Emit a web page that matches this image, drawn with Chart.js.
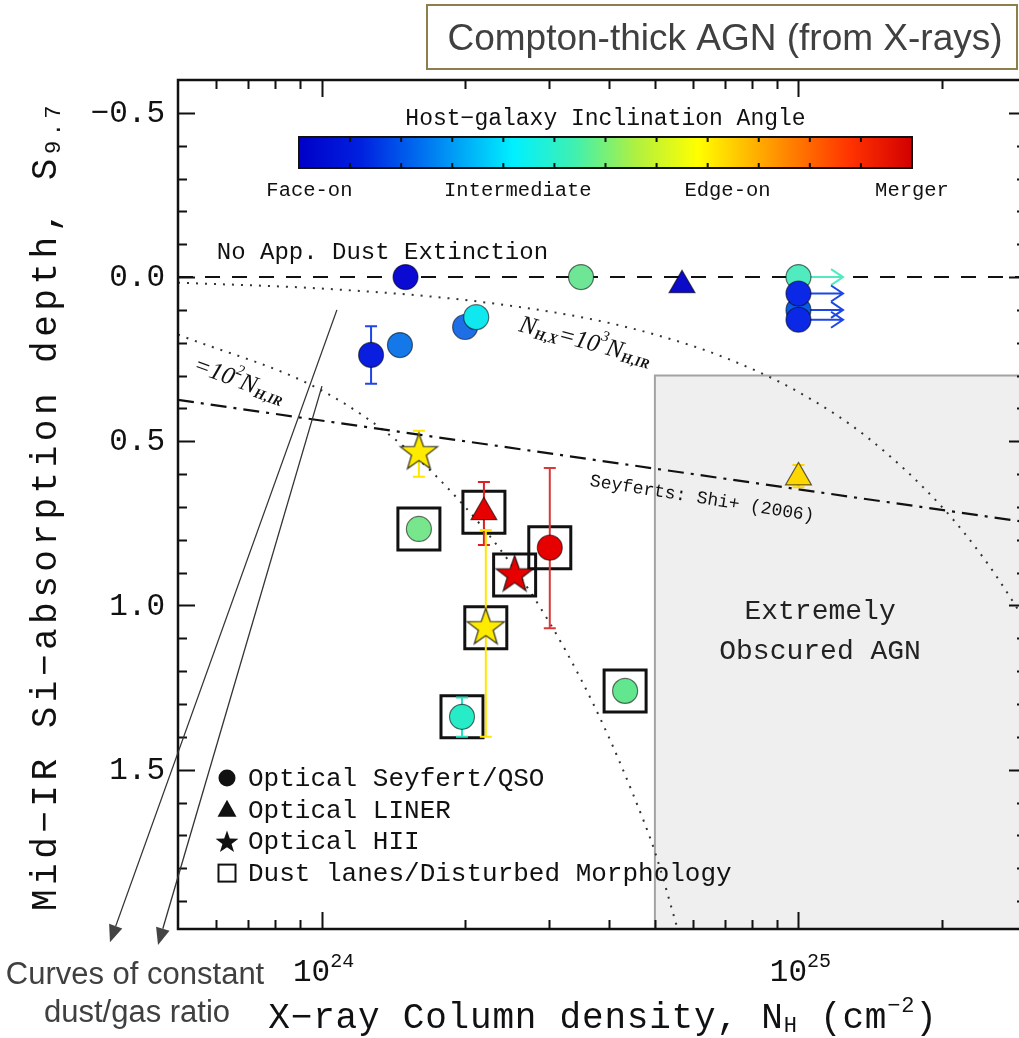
<!DOCTYPE html>
<html><head><meta charset="utf-8">
<script src="https://cdn.jsdelivr.net/npm/chart.js@4.4.1/dist/chart.umd.min.js"></script>
<style>
html,body{margin:0;padding:0;background:#fff;overflow:hidden;}
#wrap{width:1040px;height:1038px;position:relative;}
canvas{display:block;}
</style></head><body>
<div id="wrap"><canvas id="c" width="1040" height="1038" style="width:1040px;height:1038px"></canvas></div>
<script>
// ---------------- DATA ----------------
// Optical Seyfert/QSO (circles): X-ray column density N_H (cm^-2), Si depth S9.7
const seyfertNH = [1.5e24, 3.5e24, 1.27e24, 1.46e24, 2.0e24, 2.11e24, 1.6e24, 3.01e24, 1.97e24, 4.33e24, 1.0e25, 1.0e25, 1.0e25, 1.0e25];
const seyfertS  = [0.00, 0.00, 0.237, 0.207, 0.152, 0.122, 0.767, 0.824, 1.339, 1.26, 0.00, 0.10, 0.05, 0.13];
const seyfertColor = ['#0a0ad2','#6ee696','#0a1ee0','#1478e8','#1e6ee6','#10e8f0','#78e68c','#e60000','#28ebc8','#62e68e','#50ebbe','#0a5ae6','#0a28e6','#0a28e6'];
// Optical LINER (triangles)
const linerNH = [5.7e24, 2.19e24, 1.0e25];
const linerS  = [0.025, 0.716, 0.61];
const linerColor = ['#0a0ac8','#e60000','#ffd700'];
// Optical HII (stars)
const hiiNH = [1.6e24, 2.21e24, 2.54e24];
const hiiS  = [0.535, 1.068, 0.907];
const hiiColor = ['#ffeb00','#ffeb00','#e60000'];
// Dust lanes / disturbed morphology (open squares)
const boxNH = [1.6e24, 2.19e24, 2.21e24, 2.54e24, 3.01e24, 1.97e24, 4.33e24];
const boxS  = [0.767, 0.716, 1.068, 0.907, 0.824, 1.339, 1.26];
// Error bars on S9.7
const errNH = [1.27e24, 1.6e24, 2.19e24, 2.21e24, 3.01e24, 1.97e24, 1.0e25, 1.0e25];
const errLo = [0.15, 0.468, 0.624, 0.77, 0.581, 1.28, 0.572, 0.015];
const errHi = [0.325, 0.608, 0.816, 1.40, 1.069, 1.40, 0.64, 0.08];
const errColor = ['#1e46e6','#ffe600','#e02020','#ffe600','#d83a3a','#28e0c0','#ffd700','#1e46e6'];
// Lower limits on N_H (arrows)
const limNH = [1.0e25, 1.0e25, 1.0e25, 1.0e25];
const limS  = [0.00, 0.05, 0.10, 0.13];
const limToNH = [1.24e25, 1.24e25, 1.24e25, 1.24e25];
const limColor = ['#50ebbe','#1e46e6','#1e46e6','#1e46e6'];
// Reference lines
const zeroLineNH = [5e23, 3e25];
const zeroLineS  = [0, 0];
const shiNH = [5e23, 3e25];
const shiS  = [0.374, 0.746];
const ratio1e3NH = [5e23, 1e24, 2e24, 3.5e24, 5e24, 7e24, 1e25, 1.4e25, 2e25, 2.5e25, 3e25];
const ratio1e3S  = [0.017, 0.035, 0.07, 0.122, 0.175, 0.245, 0.35, 0.49, 0.70, 0.875, 1.05];
const ratio1e2NH = [5e23, 1e24, 1.5e24, 2e24, 2.5e24, 3e24, 3.5e24, 4e24, 4.5e24, 5e24, 5.58e24];
const ratio1e2S  = [0.175, 0.345, 0.52, 0.70, 0.875, 1.05, 1.225, 1.40, 1.575, 1.75, 1.985];
// Extremely obscured region
const obscuredMinNH = 5e24;
const obscuredMinS = 0.30;
// Annotation arrows ("Curves of constant dust/gas ratio")
const noteFromNH = [1.077e24, 1.002e24];
const noteFromS  = [0.10, 0.332];
const noteToNH   = [3.6e23, 4.54e23];
const noteToS    = [2.025, 2.034];
// Axes
const xMin = 5e23, xMax = 3e25, yMin = -0.6, yMax = 1.985;
const xTickValues = [5e23,6e23,7e23,8e23,9e23,1e24,2e24,3e24,4e24,5e24,6e24,7e24,8e24,9e24,1e25,2e25,3e25];
const xLabelValues = [1e24, 1e25];
const xLabelExp = ['24', '25'];
const yTickValues = [-0.5,-0.4,-0.3,-0.2,-0.1,0,0.1,0.2,0.3,0.4,0.5,0.6,0.7,0.8,0.9,1.0,1.1,1.2,1.3,1.4,1.5,1.6,1.7,1.8,1.9];
const yLabelValues = [-0.5, 0, 0.5, 1.0, 1.5];
const colorbarLabels = ['Face-on','Intermediate','Edge-on','Merger'];

// ---------------- STYLE ----------------
const MONO = '"Liberation Mono","DejaVu Sans Mono",monospace';
const SERIF = '"Liberation Serif","DejaVu Serif",serif';
const SANS = '"Liberation Sans",Arial,sans-serif';

function starCanvas(fill, R){
  const s = Math.ceil(2*R+6);
  const c = document.createElement('canvas'); c.width = s; c.height = s;
  const g = c.getContext('2d');
  g.translate(s/2, s/2);
  g.beginPath();
  for(let i=0;i<10;i++){
    const r = i%2===0 ? R : R*0.4;
    const a = -Math.PI/2 + i*Math.PI/5;
    g.lineTo(r*Math.cos(a), r*Math.sin(a));
  }
  g.closePath();
  g.fillStyle = fill; g.fill();
  g.lineWidth = 1.3; g.strokeStyle = 'rgba(0,0,0,0.75)'; g.lineJoin='miter'; g.stroke();
  return c;
}
const starImages = hiiColor.map(c => starCanvas(c, 19.5));

function pts(xs, ys){ return xs.map((x,i)=>({x, y: ys[i]})); }

function drawRich(ctx, parts, x, y, align){
  let w = 0;
  for(const p of parts){ ctx.font = p.f; w += ctx.measureText(p.t).width; }
  let cx = align==='center' ? x - w/2 : (align==='right' ? x - w : x);
  ctx.textAlign = 'left'; ctx.textBaseline = 'middle';
  for(const p of parts){ ctx.font = p.f; ctx.fillText(p.t, cx, y + (p.dy||0)); cx += ctx.measureText(p.t).width; }
}

const figPlugin = {
  id: 'fig',
  beforeDatasetsDraw(chart){
    const {ctx, chartArea:a, scales:{x, y}} = chart;
    const x0 = x.getPixelForValue(obscuredMinNH), y0 = y.getPixelForValue(obscuredMinS);
    ctx.save();
    ctx.fillStyle = '#efefef';
    ctx.fillRect(x0, y0, a.right - x0, a.bottom - y0);
    ctx.strokeStyle = '#a3a3a3'; ctx.lineWidth = 2;
    ctx.beginPath(); ctx.moveTo(x0, a.bottom); ctx.lineTo(x0, y0); ctx.lineTo(a.right, y0); ctx.stroke();
    ctx.fillStyle = '#222';
    ctx.font = '28px ' + MONO; ctx.textAlign = 'center'; ctx.textBaseline = 'middle';
    const tx = x.getPixelForValue(1.11e25);
    ctx.fillText('Extremely', tx, y.getPixelForValue(1.02));
    ctx.fillText('Obscured AGN', tx, y.getPixelForValue(1.14));
    ctx.restore();
  },
  afterDatasetDraw(chart, args){
    const ds = chart.data.datasets[args.index];
    if (ds.label !== 'Dust lanes/Disturbed Morphology') return;
    const {ctx, scales:{x, y}} = chart;
    ctx.save();
    ctx.lineWidth = 2;
    errNH.forEach((n,i)=>{
      const px = x.getPixelForValue(n), a = y.getPixelForValue(errLo[i]), b = y.getPixelForValue(errHi[i]);
      ctx.strokeStyle = errColor[i];
      ctx.beginPath(); ctx.moveTo(px, a); ctx.lineTo(px, b);
      ctx.moveTo(px-6, a); ctx.lineTo(px+6, a); ctx.moveTo(px-6, b); ctx.lineTo(px+6, b); ctx.stroke();
    });
    limNH.forEach((n,i)=>{
      const p0 = x.getPixelForValue(n), p1 = x.getPixelForValue(limToNH[i]), py = y.getPixelForValue(limS[i]);
      ctx.strokeStyle = limColor[i];
      ctx.beginPath(); ctx.moveTo(p0, py); ctx.lineTo(p1, py);
      ctx.moveTo(p1-12, py-8); ctx.lineTo(p1, py); ctx.lineTo(p1-12, py+8); ctx.stroke();
    });
    ctx.restore();
  },
  afterDatasetsDraw(chart){
    const {ctx, chartArea:a, scales:{x, y}} = chart;
    ctx.save();
    ctx.strokeStyle = '#111'; ctx.lineWidth = 2.5;
    ctx.strokeRect(a.left, a.top, a.right - a.left, a.bottom - a.top);
    ctx.lineWidth = 2;
    ctx.beginPath();
    x.ticks.forEach(t=>{
      if (t.value <= xMin || t.value >= xMax) return;
      const px = Math.round(x.getPixelForValue(t.value)) + 0.5;
      const len = xLabelValues.includes(t.value) ? 17 : 9;
      ctx.moveTo(px, a.bottom); ctx.lineTo(px, a.bottom - len);
      ctx.moveTo(px, a.top); ctx.lineTo(px, a.top + len);
    });
    y.ticks.forEach(t=>{
      const py = Math.round(y.getPixelForValue(t.value)) + 0.5;
      const major = Math.abs(t.value*2 - Math.round(t.value*2)) < 1e-6;
      const len = major ? 17 : 9;
      ctx.moveTo(a.left, py); ctx.lineTo(a.left + len, py);
      ctx.moveTo(a.right, py); ctx.lineTo(a.right - len, py);
    });
    ctx.stroke();
    ctx.restore();
  },
  afterDraw(chart){
    const {ctx, chartArea:a, scales:{x, y}} = chart;
    ctx.save();
    ctx.fillStyle = '#111';
    // y tick labels
    ctx.font = '31px ' + MONO; ctx.textAlign = 'right'; ctx.textBaseline = 'middle';
    yLabelValues.forEach(v=>{
      const s = (v < 0 ? '\u2212' : '') + Math.abs(v).toFixed(1);
      ctx.fillText(s, a.left - 13, y.getPixelForValue(v) + 1);
    });
    // x tick labels
    xLabelValues.forEach((v,i)=>{
      drawRich(ctx, [{t:'10', f:'31px '+MONO}, {t:xLabelExp[i], f:'20px '+MONO, dy:-11}], x.getPixelForValue(v) + 2, a.bottom + 44, 'center');
    });
    // axis titles
    ctx.save();
    ctx.letterSpacing = '0.8px';
    drawRich(ctx, [{t:'X\u2212ray Column density, N', f:'36px '+MONO}, {t:'H', f:'22px '+MONO, dy:8}, {t:' (cm', f:'36px '+MONO}, {t:'\u22122', f:'22px '+MONO, dy:-12}, {t:')', f:'36px '+MONO}], 603, a.bottom + 89, 'center');
    ctx.restore();
    ctx.save();
    ctx.translate(46, 506); ctx.rotate(-Math.PI/2);
    ctx.letterSpacing = '4.5px';
    drawRich(ctx, [{t:'Mid\u2212IR Si\u2212absorption depth, S', f:'36px '+MONO}, {t:'9.7', f:'22px '+MONO, dy:8}], 0, 0, 'center');
    ctx.restore();

    // reference line labels
    ctx.font = '24px ' + MONO; ctx.textAlign = 'left'; ctx.textBaseline = 'middle';
    ctx.fillText('No App. Dust Extinction', x.getPixelForValue(6.03e23), y.getPixelForValue(-0.073));
    ctx.save();
    ctx.translate(x.getPixelForValue(6.28e24), y.getPixelForValue(0.675)); ctx.rotate(9*Math.PI/180);
    ctx.font = '18px ' + MONO; ctx.textAlign = 'center';
    ctx.fillText('Seyferts: Shi+ (2006)', 0, 0);
    ctx.restore();
    ctx.save();
    ctx.translate(x.getPixelForValue(3.57e24), y.getPixelForValue(0.198)); ctx.rotate(15*Math.PI/180);
    drawRich(ctx, [{t:'N', f:'italic 25px '+SERIF}, {t:'H,X', f:'italic bold 14px '+SERIF, dy:6}, {t:'=10', f:'italic 25px '+SERIF}, {t:'3', f:'italic 15px '+SERIF, dy:-10}, {t:'N', f:'italic 25px '+SERIF}, {t:'H,IR', f:'italic bold 14px '+SERIF, dy:6}], 0, 0, 'center');
    ctx.restore();
    ctx.save();
    ctx.translate(x.getPixelForValue(6.71e23), y.getPixelForValue(0.317)); ctx.rotate(20*Math.PI/180);
    drawRich(ctx, [{t:'=10', f:'italic 25px '+SERIF}, {t:'2', f:'italic 15px '+SERIF, dy:-10}, {t:'N', f:'italic 25px '+SERIF}, {t:'H,IR', f:'italic bold 14px '+SERIF, dy:6}], 0, 0, 'center');
    ctx.restore();

    // colorbar
    const cbL = a.left + 121, cbR = a.left + 734, cbT = a.top + 57, cbB = a.top + 88;
    const g = ctx.createLinearGradient(cbL, 0, cbR, 0);
    [[0,'#0000c8'],[0.1,'#0020e0'],[0.2,'#0070f0'],[0.35,'#00f0ff'],[0.45,'#40f0b0'],[0.55,'#b0f040'],[0.65,'#ffff00'],[0.8,'#ff8200'],[0.9,'#ff3200'],[1,'#d20000']].forEach(s=>g.addColorStop(s[0], s[1]));
    ctx.fillStyle = g; ctx.fillRect(cbL, cbT, cbR - cbL, cbB - cbT);
    ctx.strokeStyle = '#111'; ctx.lineWidth = 2;
    ctx.strokeRect(cbL, cbT, cbR - cbL, cbB - cbT);
    ctx.beginPath();
    for (let k=1;k<12;k++){ const px = cbL + (cbR-cbL)*k/12; ctx.moveTo(px, cbT); ctx.lineTo(px, cbT+5); ctx.moveTo(px, cbB); ctx.lineTo(px, cbB-5); }
    ctx.stroke();
    ctx.fillStyle = '#111';
    ctx.font = '23px ' + MONO; ctx.textAlign = 'center'; ctx.textBaseline = 'middle';
    ctx.fillText('Host\u2212galaxy Inclination Angle', (cbL+cbR)/2, cbT - 18);
    ctx.font = '20.5px ' + MONO;
    [0.017, 0.357, 0.699, 1.0].forEach((f,i)=> ctx.fillText(colorbarLabels[i], cbL + (cbR-cbL)*f, cbB + 23));

    // symbol legend
    const lx = a.left + 49, ly0 = a.top + 698, dl = 31.7;
    ctx.fillStyle = '#111'; ctx.strokeStyle = '#111';
    ctx.beginPath(); ctx.arc(lx, ly0, 8.5, 0, Math.PI*2); ctx.fill();
    ctx.beginPath(); ctx.moveTo(lx, ly0+dl-10); ctx.lineTo(lx+9.5, ly0+dl+7); ctx.lineTo(lx-9.5, ly0+dl+7); ctx.closePath(); ctx.fill();
    ctx.beginPath();
    for(let i=0;i<10;i++){ const r = i%2===0 ? 12 : 4.8; const an = -Math.PI/2 + i*Math.PI/5; ctx.lineTo(lx + r*Math.cos(an), ly0+2*dl+1 + r*Math.sin(an)); }
    ctx.closePath(); ctx.fill();
    ctx.lineWidth = 2; ctx.strokeRect(lx-8.5, ly0+3*dl-8.5, 17, 17);
    ctx.font = '26px ' + MONO; ctx.textAlign = 'left'; ctx.textBaseline = 'middle';
    ['Optical Seyfert/QSO','Optical LINER','Optical HII','Dust lanes/Disturbed Morphology'].forEach((t,i)=> ctx.fillText(t, lx + 21, ly0 + i*dl + 1));

    // annotation arrows
    ctx.strokeStyle = '#333'; ctx.fillStyle = '#444'; ctx.lineWidth = 1.3;
    noteFromNH.forEach((n,i)=>{
      const x0 = x.getPixelForValue(n), y0 = y.getPixelForValue(noteFromS[i]);
      const x1 = x.getPixelForValue(noteToNH[i]), y1 = y.getPixelForValue(noteToS[i]);
      const ang = Math.atan2(y1-y0, x1-x0), L = 17, H = 7;
      const bx = x1 - L*Math.cos(ang), by = y1 - L*Math.sin(ang);
      ctx.beginPath(); ctx.moveTo(x0, y0); ctx.lineTo(bx, by); ctx.stroke();
      ctx.beginPath(); ctx.moveTo(x1, y1);
      ctx.lineTo(bx + H*Math.sin(ang), by - H*Math.cos(ang));
      ctx.lineTo(bx - H*Math.sin(ang), by + H*Math.cos(ang));
      ctx.closePath(); ctx.fill();
    });
    ctx.fillStyle = '#404040';
    ctx.font = '31px ' + SANS; ctx.textAlign = 'center'; ctx.textBaseline = 'middle';
    ctx.fillText('Curves of constant', 135, 975);
    ctx.fillText('dust/gas ratio', 137, 1013);

    // title box
    ctx.strokeStyle = '#8c7f4b'; ctx.lineWidth = 2;
    ctx.strokeRect(427, 5, 590, 64);
    ctx.fillStyle = '#404040';
    ctx.font = '37px ' + SANS;
    ctx.fillText('Compton-thick AGN (from X-rays)', 725, 40);
    ctx.restore();
  }
};

new Chart(document.getElementById('c').getContext('2d'), {
  type: 'scatter',
  data: { datasets: [
    {type:'line', label:'No App. Dust Extinction', data: pts(zeroLineNH, zeroLineS), borderColor:'#111', borderWidth:2, borderDash:[15,12], pointRadius:0, fill:false, order:10},
    {type:'line', label:'Seyferts: Shi+ (2006)', data: pts(shiNH, shiS), borderColor:'#111', borderWidth:2.2, borderDash:[16,7,3,7], pointRadius:0, fill:false, order:10},
    {type:'line', label:'N_H,X = 10^3 N_H,IR', data: pts(ratio1e3NH, ratio1e3S), borderColor:'#333', borderWidth:2, borderDash:[2,7], pointRadius:0, fill:false, cubicInterpolationMode:'monotone', order:10},
    {type:'line', label:'N_H,X = 10^2 N_H,IR', data: pts(ratio1e2NH, ratio1e2S), borderColor:'#333', borderWidth:2, borderDash:[2,7], pointRadius:0, fill:false, cubicInterpolationMode:'monotone', order:10},
    {label:'Dust lanes/Disturbed Morphology', data: pts(boxNH, boxS), pointStyle:'rect', pointRadius:29.7, backgroundColor:'rgba(0,0,0,0)', borderColor:'#111', borderWidth:3, order:5},
    {label:'Optical Seyfert/QSO', data: pts(seyfertNH, seyfertS), pointStyle:'circle', pointRadius:12.5, backgroundColor: seyfertColor, borderColor:'rgba(0,0,0,0.55)', borderWidth:1.2, order:3},
    {label:'Optical LINER', data: pts(linerNH, linerS), pointStyle:'triangle', pointRadius:15, backgroundColor: linerColor, borderColor:'rgba(0,0,0,0.6)', borderWidth:1.2, order:2},
    {label:'Optical HII', data: pts(hiiNH, hiiS), pointStyle: starImages, pointRadius:20, backgroundColor: hiiColor, order:1}
  ]},
  options: {
    responsive:false, animation:false, devicePixelRatio:1, events:[],
    layout:{autoPadding:false, padding:{left:178, top:80, right:14, bottom:109}},
    plugins:{legend:{display:false}, tooltip:{enabled:false}, title:{display:false}},
    scales:{
      x:{type:'logarithmic', min:xMin, max:xMax, grid:{display:false, drawTicks:false, tickLength:0}, border:{display:false}, ticks:{display:false},
         afterBuildTicks: s => { s.ticks = xTickValues.map(v=>({value:v, major: xLabelValues.includes(v)})); }},
      y:{type:'linear', reverse:true, min:yMin, max:yMax, grid:{display:false, drawTicks:false, tickLength:0}, border:{display:false}, ticks:{display:false},
         afterBuildTicks: s => { s.ticks = yTickValues.map(v=>({value:v})); }}
    }
  },
  plugins:[figPlugin]
});
</script>
</body></html>
